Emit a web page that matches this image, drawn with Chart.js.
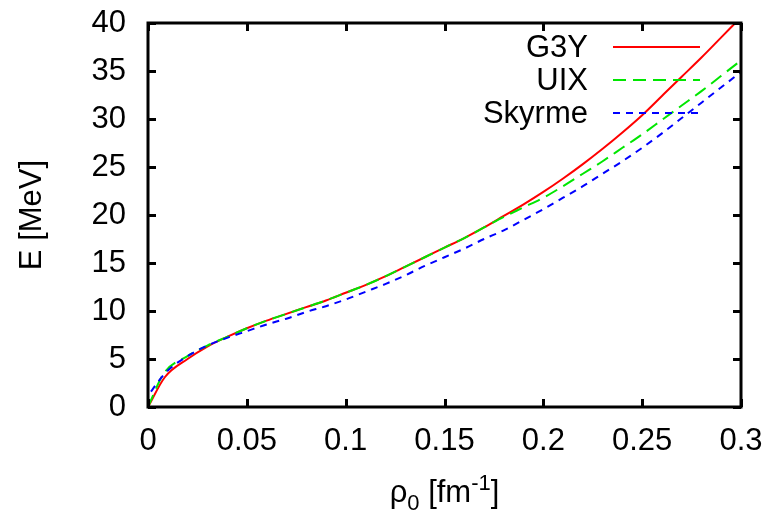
<!DOCTYPE html>
<html><head><meta charset="utf-8">
<script src="https://cdn.jsdelivr.net/npm/chart.js@4.4.1/dist/chart.umd.min.js"></script>
<style>html,body{margin:0;padding:0;background:#fff}#wrap{width:771px;height:516px}</style>
</head><body><div id="wrap"><canvas id="c" width="771" height="516"></canvas></div>
<script>
// ---- data ----
const seriesNames = ['G3Y', 'UIX', 'Skyrme'];
const g3yRho = [0, 0.0085, 0.02, 0.03, 0.04, 0.05, 0.06, 0.07, 0.08, 0.09, 0.10, 0.11, 0.12, 0.13, 0.14, 0.15, 0.16, 0.17, 0.18, 0.19, 0.20, 0.21, 0.22, 0.23, 0.24, 0.25, 0.26, 0.27, 0.28, 0.29, 0.30];
const g3yE   = [0, 3.1, 5.0, 6.3, 7.3, 8.2, 9.0, 9.7, 10.4, 11.1, 11.9, 12.7, 13.6, 14.6, 15.6, 16.6, 17.6, 18.7, 19.9, 21.1, 22.4, 23.8, 25.3, 26.9, 28.6, 30.4, 32.4, 34.4, 36.4, 38.5, 40.6];
const uixRho = [0, 0.008, 0.02, 0.03, 0.04, 0.05, 0.06, 0.07, 0.08, 0.09, 0.10, 0.11, 0.12, 0.13, 0.14, 0.15, 0.16, 0.17, 0.18, 0.19, 0.20, 0.21, 0.22, 0.23, 0.24, 0.25, 0.26, 0.27, 0.28, 0.29, 0.30];
const uixE   = [0, 3.5, 5.3, 6.4, 7.3, 8.2, 9.0, 9.7, 10.4, 11.1, 11.9, 12.7, 13.6, 14.6, 15.6, 16.6, 17.6, 18.7, 19.8, 20.8, 21.8, 23.0, 24.3, 25.6, 27.0, 28.4, 29.9, 31.4, 32.9, 34.5, 36.1];
const skyRho = [0.0015, 0.005, 0.01, 0.02, 0.03, 0.04, 0.05, 0.06, 0.07, 0.08, 0.09, 0.10, 0.11, 0.12, 0.13, 0.14, 0.15, 0.16, 0.17, 0.18, 0.19, 0.20, 0.21, 0.22, 0.23, 0.24, 0.25, 0.26, 0.27, 0.28, 0.29, 0.30];
const skyE   = [1.6, 2.6, 3.8, 5.3, 6.4, 7.2, 7.9, 8.6, 9.2, 9.9, 10.5, 11.2, 12.0, 12.8, 13.7, 14.7, 15.6, 16.5, 17.5, 18.4, 19.5, 20.6, 21.8, 23.0, 24.3, 25.6, 27.0, 28.5, 30.1, 31.7, 33.3, 34.9];
const xTickValues = [0, 0.05, 0.1, 0.15, 0.2, 0.25, 0.3];
const xTickLabels = ['0', '0.05', '0.1', '0.15', '0.2', '0.25', '0.3'];
const yTickValues = [0, 5, 10, 15, 20, 25, 30, 35, 40];
const yTickLabels = ['0', '5', '10', '15', '20', '25', '30', '35', '40'];
const yTitle = 'E [MeV]';

// ---- style ----
const FONT = '"Liberation Sans", Arial, sans-serif';
const FS = 31;
const PLOT = {left: 148, top: 23, right: 741, bottom: 407};

function pts(xs, ys) { return xs.map((x, i) => ({x: x, y: ys[i]})); }

const styles = [
  {color: '#ff0000', dash: []},
  {color: '#00e600', dash: [13, 7]},
  {color: '#0000ff', dash: [7, 6]}
];
const raw = [[g3yRho, g3yE], [uixRho, uixE], [skyRho, skyE]];

const datasets = raw.map((r, i) => ({
  label: seriesNames[i],
  data: pts(r[0], r[1]),
  borderColor: styles[i].color,
  backgroundColor: styles[i].color,
  borderDash: styles[i].dash,
  borderWidth: 2,
  pointRadius: 0,
  fill: false,
  cubicInterpolationMode: 'monotone',
  clip: 0,
  order: 2 - i
}));

const decor = {
  id: 'decor',
  afterDraw(chart) {
    const ctx = chart.ctx;
    const a = chart.chartArea;
    const xs = chart.scales.x, ys = chart.scales.y;
    ctx.save();
    ctx.strokeStyle = '#000';
    ctx.lineWidth = 3;
    ctx.setLineDash([]);
    const TL = 8;
    ctx.beginPath();
    xTickValues.forEach(v => {
      const px = Math.round(xs.getPixelForValue(v)) + 0.5;
      ctx.moveTo(px, a.bottom); ctx.lineTo(px, a.bottom - TL);
      ctx.moveTo(px, a.top); ctx.lineTo(px, a.top + TL);
    });
    yTickValues.forEach(v => {
      const py = Math.round(ys.getPixelForValue(v)) + 0.5;
      ctx.moveTo(a.left, py); ctx.lineTo(a.left + TL, py);
      ctx.moveTo(a.right, py); ctx.lineTo(a.right - TL, py);
    });
    ctx.stroke();
    ctx.strokeRect(a.left, a.top, a.right - a.left, a.bottom - a.top);

    // legend
    ctx.font = FS + 'px ' + FONT;
    ctx.fillStyle = '#000';
    ctx.textAlign = 'right';
    ctx.textBaseline = 'middle';
    chart.data.datasets.forEach((d, i) => {
      const y = 47 + 33 * i;
      ctx.fillText(d.label, 588, y + 1);
      ctx.strokeStyle = d.borderColor;
      ctx.lineWidth = 2;
      ctx.setLineDash(d.borderDash);
      ctx.beginPath();
      ctx.moveTo(613, y); ctx.lineTo(700, y);
      ctx.stroke();
    });
    ctx.setLineDash([]);

    // y title
    ctx.save();
    ctx.translate(32, (a.top + a.bottom) / 2);
    ctx.rotate(-Math.PI / 2);
    ctx.textAlign = 'center';
    ctx.textBaseline = 'middle';
    ctx.fillStyle = '#000';
    ctx.fillText(yTitle, 0, 0);
    ctx.restore();

    // x title with sub/superscript
    const small = Math.round(FS * 0.72);
    const parts = [
      {t: 'ρ', s: FS, dy: 0},
      {t: '0', s: small, dy: 8},
      {t: ' [fm', s: FS, dy: 0},
      {t: '-1', s: small, dy: -12},
      {t: ']', s: FS, dy: 0}
    ];
    let total = 0;
    parts.forEach(p => { ctx.font = p.s + 'px ' + FONT; p.w = ctx.measureText(p.t).width; total += p.w; });
    let x = (a.left + a.right) / 2 - total / 2;
    const base = 502;
    ctx.textAlign = 'left';
    ctx.textBaseline = 'alphabetic';
    parts.forEach(p => {
      ctx.font = p.s + 'px ' + FONT;
      ctx.fillText(p.t, x, base + p.dy);
      x += p.w;
    });
    ctx.restore();
  }
};

new Chart(document.getElementById('c'), {
  type: 'line',
  data: {datasets: datasets},
  options: {
    responsive: false,
    animation: false,
    devicePixelRatio: 1,
    layout: {padding: {left: 0, top: PLOT.top, right: 771 - PLOT.right, bottom: 0}},
    plugins: {legend: {display: false}, tooltip: {enabled: false}},
    scales: {
      x: {
        type: 'linear', min: 0, max: 0.3,
        afterBuildTicks: s => { s.ticks = xTickValues.map(v => ({value: v})); },
        afterFit: s => { s.height = 516 - PLOT.bottom; s.paddingLeft = 0; s.paddingRight = 0; },
        grid: {display: false, drawTicks: false},
        border: {display: false},
        ticks: {
          color: '#000', font: {family: FONT, size: FS}, padding: 16, maxRotation: 0, autoSkip: false,
          callback: (v) => xTickLabels[xTickValues.findIndex(t => Math.abs(t - v) < 1e-9)]
        }
      },
      y: {
        type: 'linear', min: 0, max: 40,
        afterBuildTicks: s => { s.ticks = yTickValues.map(v => ({value: v})); },
        afterFit: s => { s.width = PLOT.left; s.paddingTop = 0; s.paddingBottom = 0; },
        grid: {display: false, drawTicks: false},
        border: {display: false},
        ticks: {
          color: '#000', font: {family: FONT, size: FS}, padding: 22, autoSkip: false,
          callback: (v) => yTickLabels[yTickValues.indexOf(v)]
        }
      }
    }
  },
  plugins: [decor]
});
</script>
</body></html>
